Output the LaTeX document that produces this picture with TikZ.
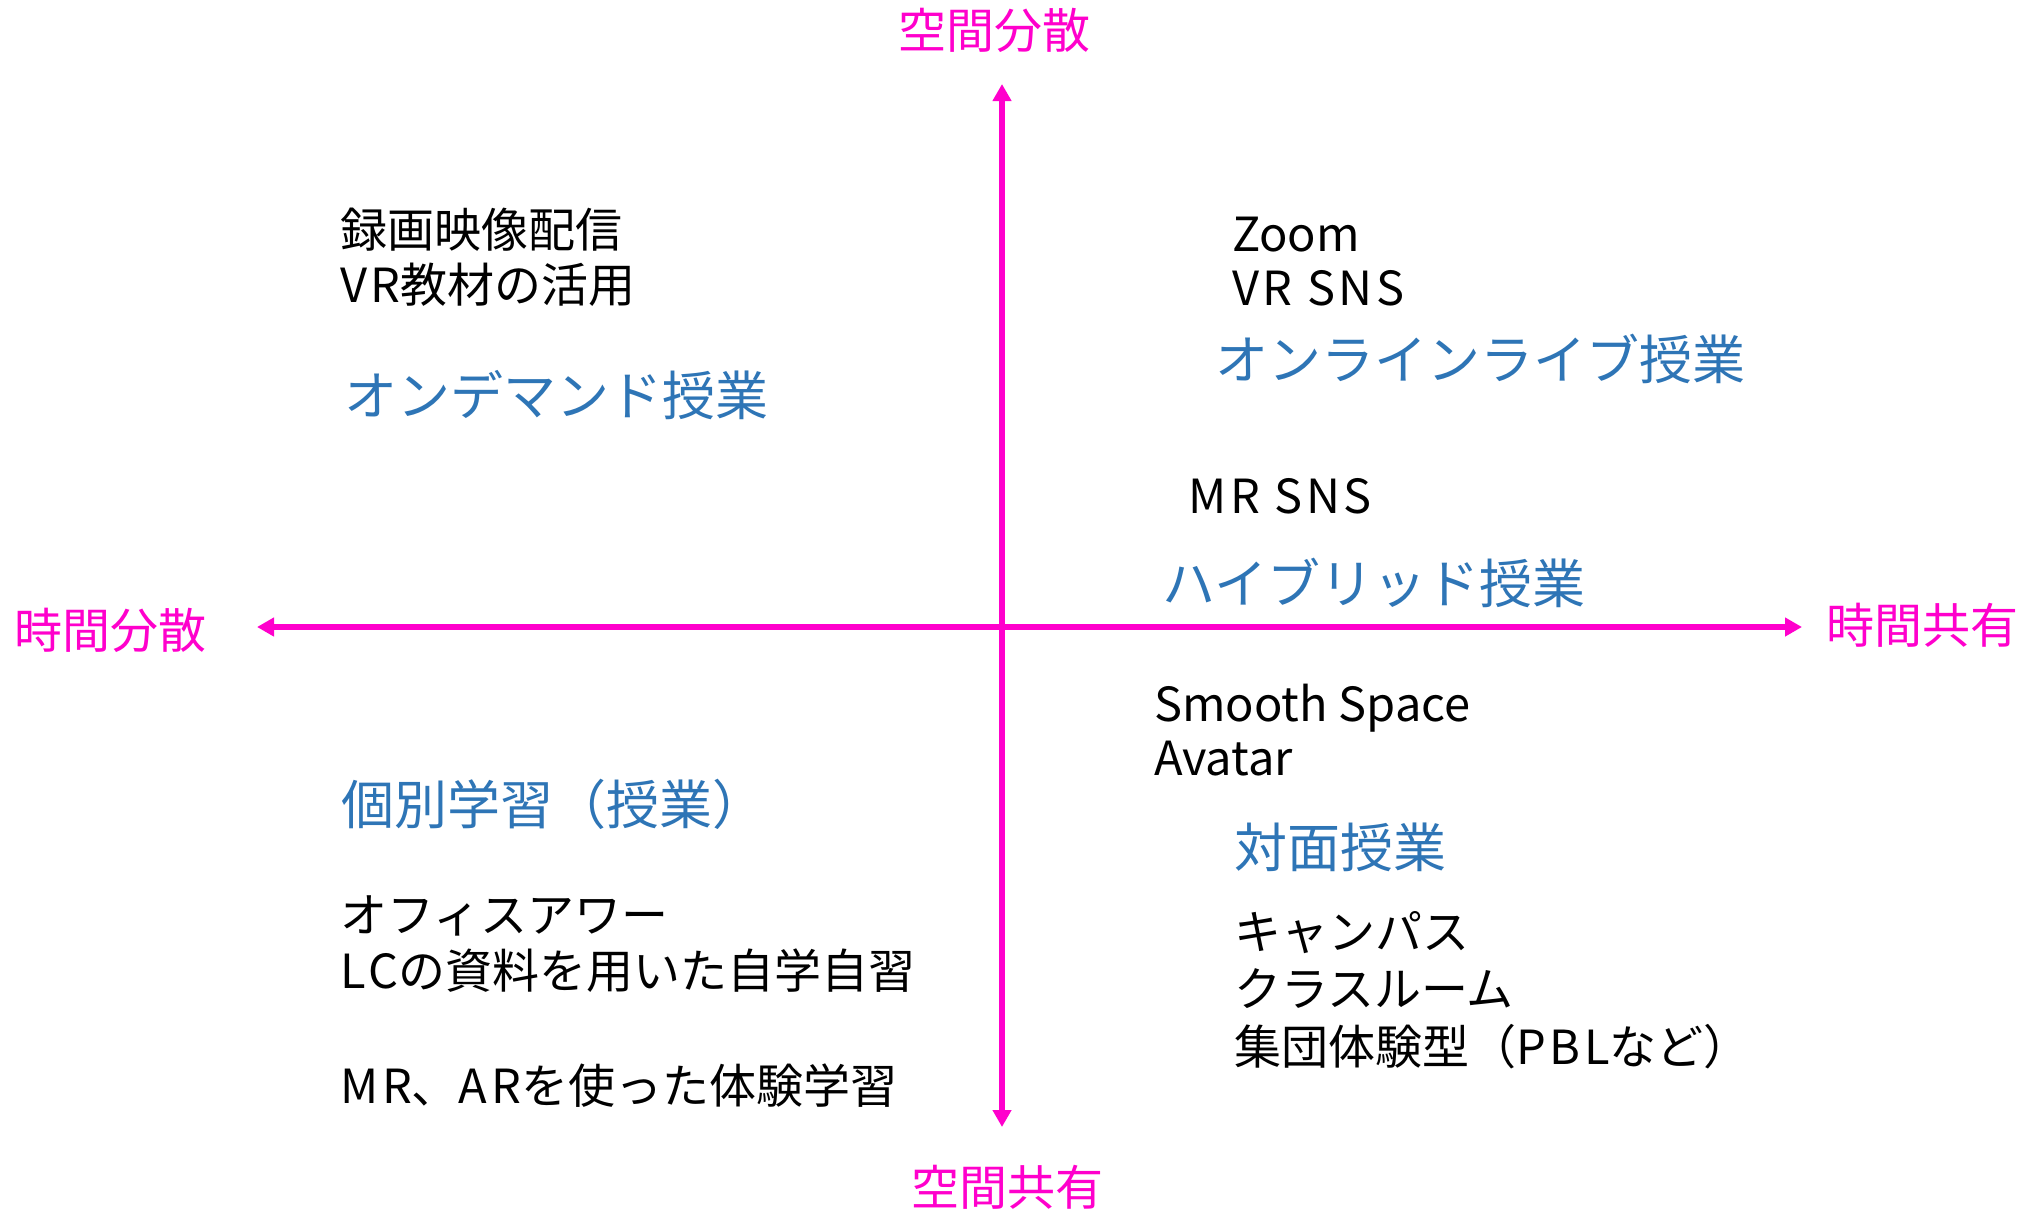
\documentclass[tikz,border=0pt]{standalone}
\usepackage{fontspec}
\setmainfont{Noto Sans CJK JP}
\newfontfamily\capswide[LetterSpace=8]{Noto Sans CJK JP}
\usetikzlibrary{arrows.meta}
\definecolor{axismag}{HTML}{FF00CC}
\definecolor{catblue}{HTML}{2E75B6}
\tikzset{
  axisline/.style={draw=axismag, line width=5.5pt, {Triangle[length=17pt,width=18pt]}-{Triangle[length=17pt,width=18pt]}},
  axislabel/.style={text=axismag, font=\fontsize{48}{56}\selectfont, inner sep=0pt},
  itemtext/.style={text=black, font=\fontsize{47}{55}\selectfont, inner sep=0pt, anchor=base west},
  cattext/.style={text=catblue, font=\fontsize{53}{60}\selectfont, inner sep=0pt, anchor=base west},
}
\newcommand{\wc}[1]{{\capswide #1}}
\begin{document}
\begin{tikzpicture}[x=1pt,y=-1pt]
\useasboundingbox[fill=white] (0,0) rectangle (2033,1208);
% axes
\coordinate (vtop) at (1002,84);
\coordinate (vbot) at (1002,1127);
\coordinate (hleft) at (257,627);
\coordinate (hright) at (1802,627);
\draw[axisline] (vbot) -- (vtop);
\draw[axisline] (hleft) -- (hright);
% axis labels
\node[axislabel] (spdist) at (994,30) {空間分散};
\node[axislabel] (spshare) at (1007,1187) {空間共有};
\node[axislabel] (tmdist) at (110,630) {時間分散};
\node[axislabel] (tmshare) at (1922,625) {時間共有};
% upper left
\node[itemtext] (rec) at (340,247) {録画映像配信};
\node[itemtext] (vrmat) at (340,302) {\wc{VR}教材の活用};
\node[cattext] (ondemand) at (344,415) {オンデマンド授業};
% upper right
\node[itemtext] (zoom) at (1232,251) {Zoom};
\node[itemtext] (vrsns) at (1232,305) {\wc{VR SNS}};
\node[cattext] (online) at (1215,379) {オンラインライブ授業};
\node[itemtext] (mrsns) at (1188,513) {\wc{MR SNS}};
\node[cattext] (hybrid) at (1162,603) {ハイブリッド授業};
% lower right
\node[itemtext] (smooth) at (1154,721) {Smooth Space};
\node[itemtext] (avatar) at (1154,775) {Avatar};
\node[cattext] (face) at (1234,867) {対面授業};
\node[itemtext] (campus) at (1234,949) {キャンパス};
\node[itemtext] (classroom) at (1234,1006) {クラスルーム};
\node[itemtext] (group) at (1234,1064) {集団体験型（\wc{PBL}など）};
% lower left
\node[cattext] (indiv) at (341,824) {個別学習（授業）};
\node[itemtext] (office) at (340,932) {オフィスアワー};
\node[itemtext] (lc) at (340,988) {\wc{LC}の資料を用いた自学自習};
\node[itemtext] (mrar) at (340,1103) {\wc{MR}、\wc{AR}を使った体験学習};
\end{tikzpicture}
\end{document}
